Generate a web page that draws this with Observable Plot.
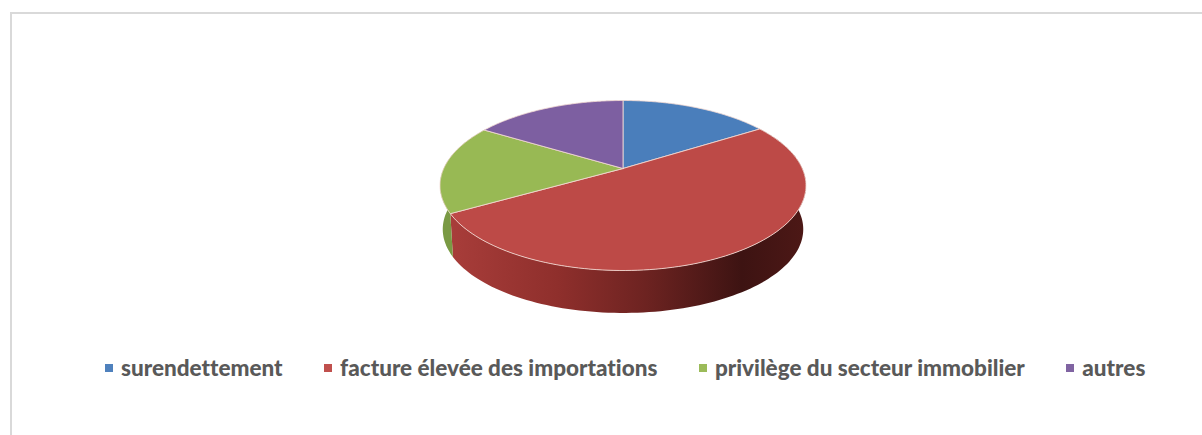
<!DOCTYPE html>
<html lang="fr">
<head>
<meta charset="utf-8">
<script src="https://cdn.jsdelivr.net/npm/d3@7"></script>
<script src="https://cdn.jsdelivr.net/npm/@observablehq/plot@0.6"></script>
<style>
  html, body { margin: 0; padding: 0; background: #fff; overflow: hidden; }
  #frame { position: absolute; left: 10px; top: 12px; width: 1192px; height: 423px;
           box-sizing: border-box; border: solid #d9d9d9; border-width: 2px 0 0 2px; }
  #chart { position: absolute; left: 0; top: 0; }
  #legend { position: absolute; left: 0; top: 354px; width: 1202px; display: flex; justify-content: flex-start;
            gap: 41.5px; padding-left: 105px; box-sizing: border-box;
            font: 900 22.5px Lato, sans-serif; font-variant-ligatures: none; color: #595959; }
  #legend span.item { display: flex; align-items: center; gap: 8px; white-space: nowrap; }
  #legend i { width: 8px; height: 8px; display: block; }
</style>
</head>
<body>
<div id="frame"></div>
<div id="chart"></div>
<div id="legend"></div>
<script>
const categories = ["surendettement", "facture élevée des importations", "privilège du secteur immobilier", "autres"];
const shares = [16.0, 50.7, 17.0, 16.3];
const colors = ["#4a7ebb", "#bd4a47", "#98b954", "#7d5fa1"];
const swatches = ["#4f81bd", "#c0504d", "#9bbb59", "#8064a2"];
const sideColors = ["#2f5378", "url(#redSide)", "#7a9a44", "#52406b"];

// Disc geometry in chart units: perspective foreshortening towards the back.
const radiusX = 179.3, radiusY = 81.6, perspective = 0.2, depth = 44, bottomScale = 0.985;
const project = (deg, r = 1, drop = 0, scale = 1) => {
  const a = deg * Math.PI / 180, c = Math.sin(a) * r, s = -Math.cos(a) * r;
  const w = 1 - perspective * s;
  return {x: radiusX * scale * c / w, y: radiusY * scale * s / w + drop};
};

let start = 0;
const slices = categories.map((name, i) => {
  const from = start, to = start + shares[i] / d3.sum(shares) * 360;
  start = to;
  return {name, i, from, to};
});
const arc = (s, drop, scale, reverse) => {
  const steps = d3.range(0, 121).map(k => s.from + (s.to - s.from) * k / 120);
  return (reverse ? steps.reverse() : steps).map(d => project(d, 1, drop, scale));
};

const face = slices.flatMap(s => [project(0, 0), ...arc(s, 0, 1, false), project(0, 0)].map(p => ({...p, i: s.i})));
const rim = slices.filter(s => s.i === 1 || s.i === 2)
  .flatMap(s => [...arc(s, 0, 1, false), ...arc(s, depth, bottomScale, true)].map(p => ({...p, i: s.i})));

const chart = Plot.plot({
  width: 1202, height: 340, margin: 0,
  x: {domain: [-622.5, 579.5], axis: null},
  y: {domain: [172, -168], axis: null},
  marks: [
    slices.filter(s => s.i === 1 || s.i === 2).map(s =>
      Plot.line(rim.filter(p => p.i === s.i), {x: "x", y: "y", fill: sideColors[s.i], curve: "linear-closed"})),
    slices.map(s =>
      Plot.line(face.filter(p => p.i === s.i), {x: "x", y: "y", fill: colors[s.i], stroke: "#f2d9d2", strokeWidth: 1, strokeOpacity: 0.85, curve: "linear-closed"}))
  ]
});

// Horizontal shading for the rim of the largest slice.
const defs = d3.create("svg:defs");
const gradient = defs.append("linearGradient").attr("id", "redSide");
[[0, "#a83d3a"], [0.3, "#8f2f2c"], [0.55, "#6d2321"], [0.82, "#3d1312"], [1, "#4d1816"]].forEach(([o, c]) =>
  gradient.append("stop").attr("offset", o).attr("stop-color", c));
chart.prepend(defs.node());
document.getElementById("chart").append(chart);

const legend = d3.select("#legend").selectAll("span").data(categories).join("span").attr("class", "item");
legend.append("i").style("background", (d, i) => swatches[i]);
legend.append("span").text(d => d);
</script>
</body>
</html>
